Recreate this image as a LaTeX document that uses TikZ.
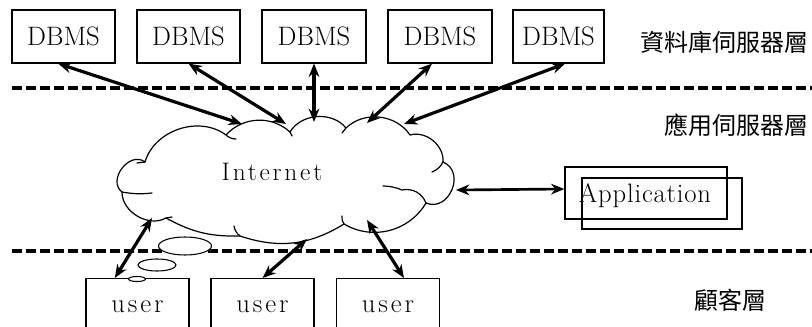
\documentclass[tikz,border=0pt]{standalone}
\usepackage{fontspec}
\newfontfamily\cjk{Noto Sans CJK TC}
\newfontfamily\spaced[LetterSpace=11]{Latin Modern Roman}
\newfontfamily\appfont[LetterSpace=3]{Latin Modern Roman}
\usetikzlibrary{shapes.geometric,arrows.meta}

\begin{document}
\begin{tikzpicture}[x=0.75pt,y=-0.75pt,
  box/.style={draw, line width=0.9pt, inner sep=0pt, minimum height=53*0.75pt,
              font=\fontsize{20}{22}\selectfont},
  userbox/.style={draw, line width=0.9pt, inner sep=0pt, minimum width=103*0.75pt,
              minimum height=56*0.75pt, font=\spaced\fontsize{20}{22}\selectfont},
  layer/.style={line width=2.3pt, dash pattern=on 7.5pt off 3pt},
  link/.style={line width=2.4pt, {Stealth[length=10pt,width=8pt]}-{Stealth[length=10pt,width=8pt]}},
  outline/.style={line width=0.9pt, line join=round, line cap=round},
  tag/.style={font=\cjk\fontsize{18}{20}\selectfont, inner sep=0pt},
  bubble/.style={ellipse, draw, line width=0.8pt, fill=white, inner sep=0pt}]
\clip (0,0) rectangle (812,327);

% database tier
\node[box, minimum width=103*0.75pt] (db1) at (63.5,36.5) {DBMS};
\node[box, minimum width=103*0.75pt] (db2) at (188.5,36.5) {DBMS};
\node[box, minimum width=104*0.75pt] (db3) at (314,36.5) {DBMS};
\node[box, minimum width=104*0.75pt] (db4) at (440,36.5) {DBMS};
\node[box, minimum width=91*0.75pt]  (db5) at (558.5,36.5) {DBMS};

% tier separators
\draw[layer] (12,88) -- (812,88);
\draw[layer] (12,251) -- (812,251);

% tier names
\node[tag] (t1) at (724,42) {資料庫伺服器層};
\node[tag] (t2) at (736,125) {應用伺服器層};
\node[tag] (t3) at (730,300) {顧客層};

% the Internet cloud, traced clockwise puff by puff
\draw[outline]
  (122,192) to[bend left=90, looseness=1.3] (145,162)
            to[bend left=55] (226,135)
            to[bend left=45] (290,132)
            to[bend left=55] (346,128)
            to[bend left=50] (410,135)
            to[bend left=55] (443,162)
            to[bend left=90, looseness=1.45] (426,203)
            to[bend left=45] (344,224)
            to[bend left=25] (240,236)
            to[bend left=15] (166,218)
            to[bend left=60] cycle;
% inner curls of the cloud
\draw[outline] (122,192) to[bend right=8] (152,193);
\draw[outline] (145,162) -- (137,163);
\draw[outline] (226,135) to[bend right=20] (236,139);
\draw[outline] (290,132) -- (292,136);
\draw[outline] (346,128) -- (342,133);
\draw[outline] (443,162) to[bend left=20] (432,172);
\draw[outline] (426,203) to[bend right=40] (402,190) to[bend right=10] (383,186);
\draw[outline] (344,224) to[bend left=20] (342,216);
\draw[outline] (240,236) to[bend left=20] (234,226);
\draw[outline] (166,218) -- (172,217);
\node[font=\spaced\fontsize{19}{21}\selectfont] (nettext) at (272,172) {Internet};

% arrow tips on the cloud border
\coordinate (c1) at (242,124);
\coordinate (c2) at (286,124);
\coordinate (c3) at (314,122);
\coordinate (c4) at (367,123);
\coordinate (c5) at (404,124);
\coordinate (c6) at (456,190);
\coordinate (c7) at (152,218);
\coordinate (c8) at (307,239);
\coordinate (c9) at (367,220);

% application server
\node[draw, line width=0.9pt, minimum width=162*0.75pt, minimum height=52*0.75pt] (app1) at (646,193) {};
\node[draw, line width=0.9pt, minimum width=160*0.75pt, minimum height=51*0.75pt] (app2) at (662,203.5) {};
\node[font=\appfont\fontsize{20}{22}\selectfont] (apptext) at (645,196) {Application};

% clients
\node[userbox, anchor=north] (u1) at (137.5,278) {user};
\node[userbox, anchor=north] (u2) at (262.5,278) {user};
\node[userbox, anchor=north] (u3) at (388,278) {user};

% thought bubbles
\node[bubble, minimum width=53*0.75pt, minimum height=18*0.75pt] (b1) at (185,246) {};
\node[bubble, minimum width=38*0.75pt, minimum height=12*0.75pt] (b2) at (157,265) {};
\node[bubble, minimum width=17*0.75pt, minimum height=5*0.75pt] (b3) at (137,279) {};

% connections
\draw[link] ([xshift=-4pt]db1.south) -- (c1);
\draw[link] (db2.south) -- (c2);
\draw[link] (db3.south) -- (c3);
\draw[link] ([xshift=-6pt]db4.south) -- (c4);
\draw[link] ([xshift=5pt]db5.south) -- (c5);
\draw[link, line width=2pt] ([yshift=3pt]app1.west) -- (c6);
\draw[link] ([xshift=-17pt]u1.north) -- (c7);
\draw[link] (u2.north) -- (c8);
\draw[link] ([xshift=12pt]u3.north) -- (c9);
\end{tikzpicture}
\end{document}
